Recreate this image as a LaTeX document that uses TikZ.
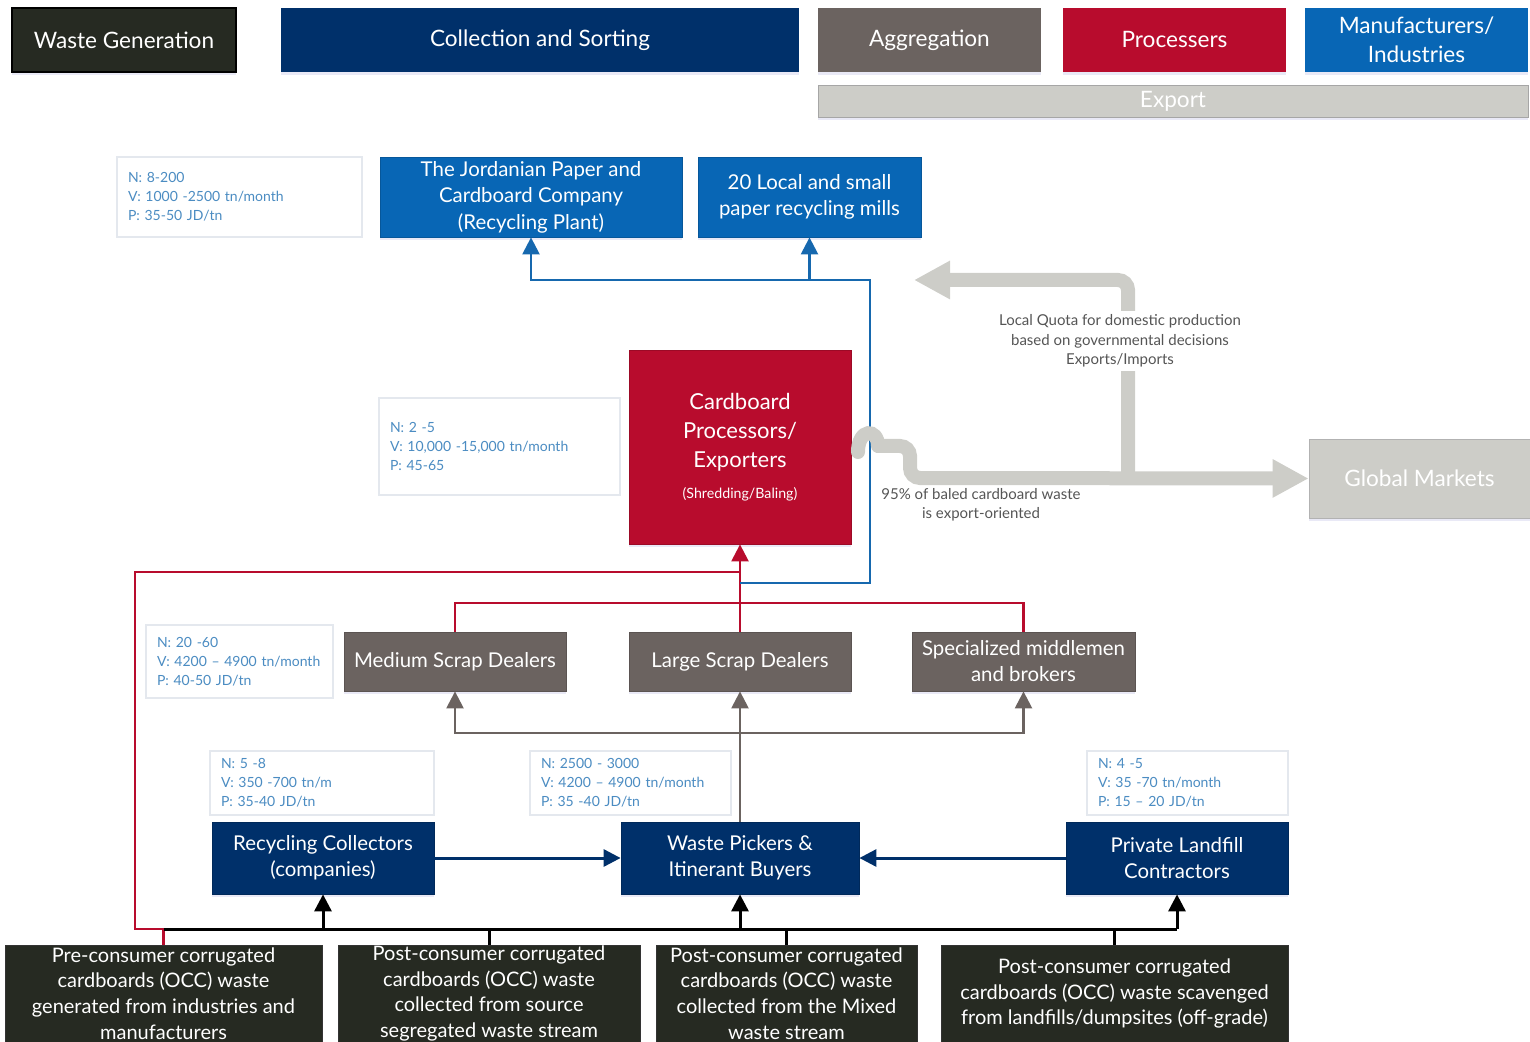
\documentclass[tikz,border=0pt]{standalone}
\usepackage{fontspec}
\setmainfont{Lato}
\usetikzlibrary{arrows.meta,shadows}

\definecolor{wastebg}{HTML}{262A22}
\definecolor{navybg}{HTML}{00306A}
\definecolor{agbg}{HTML}{6B6360}
\definecolor{procbg}{HTML}{B80C2D}
\definecolor{mfgbg}{HTML}{0866B5}
\definecolor{exportbg}{HTML}{CDCDC8}
\definecolor{infotext}{HTML}{4B8CC2}
\definecolor{infoedge}{HTML}{E4E8EE}
\definecolor{labeltext}{HTML}{555555}
\definecolor{flowblue}{HTML}{1668AE}

\tikzset{
  box/.style={rectangle, inner sep=0pt, align=center, text=white,
    drop shadow={shadow xshift=0pt, shadow yshift=-1.5pt, opacity=0.12, fill=blue!40!gray}},
  header/.style={box, minimum height=32pt, font=\fontsize{11.3}{14.5}\selectfont},
  mfgbox/.style={box, fill=mfgbg, draw=mfgbg!85!black, minimum height=40pt,
    font=\fontsize{10.2}{13.3}\selectfont},
  procbox/.style={box, fill=procbg, draw=procbg!85!black, font=\fontsize{11}{14.5}\selectfont},
  aggbox/.style={box, fill=agbg, draw=agbg!85!black, minimum height=29.5pt,
    font=\fontsize{10.2}{13}\selectfont},
  collbox/.style={box, fill=navybg, draw=navybg!85!black, minimum height=36pt,
    font=\fontsize{10.2}{13}\selectfont},
  genbox/.style={box, fill=wastebg, draw=black!80, minimum height=48.5pt,
    font=\fontsize{10}{12.8}\selectfont},
  info/.style={rectangle, draw=infoedge, line width=1pt, fill=white, inner xsep=5.5pt,
    inner ysep=0pt, align=left, text=infotext, font=\fontsize{7}{9.6}\selectfont},
  flowlabel/.style={align=center, text=labeltext, font=\fontsize{7.5}{9.7}\selectfont},
  tip/.style={-{Triangle[width=8.5pt,length=8.5pt]}},
  redflow/.style={draw=procbg, line width=1.2pt},
  blueflow/.style={draw=flowblue, line width=1.2pt},
  grayflow/.style={draw=agbg, line width=1.2pt},
  navyflow/.style={draw=navybg, line width=1.5pt},
  busflow/.style={draw=black, line width=1.5pt},
  exportflow/.style={draw=exportbg, line width=7pt,
    -{Triangle[width=18pt,length=18pt]}},
}

\begin{document}
\begin{tikzpicture}[x=0.5pt,y=-0.5pt]
\useasboundingbox (0,0) rectangle (1530,1042);
\clip (0,0) rectangle (1530,1042);

% ---- stage headers ----
\node[header, fill=wastebg, draw=black, line width=1pt, minimum width=112pt] (hWaste) at (124,40) {Waste Generation};
\node[header, fill=navybg, minimum width=259pt] (hColl) at (540,40) {Collection and Sorting};
\node[header, fill=agbg, minimum width=111.5pt] (hAgg) at (929.5,40) {Aggregation};
\node[header, fill=procbg, minimum width=111.5pt] (hProc) at (1174.5,40) {Processers};
\node[header, fill=mfgbg, minimum width=111.5pt] (hMfg) at (1416.5,40) {Manufacturers/\\Industries};
\node[header, fill=exportbg, draw=gray!70, minimum width=355pt, minimum height=16pt] (hExport) at (1173,101) {Export};

% ---- manufacturers ----
\node[info, text width=111.5pt, minimum height=40pt] (info1) at (239.5,197) {N: 8-200\\V: 1000 -2500 tn/month\\P: 35-50 JD/tn};
\node[mfgbox, minimum width=151pt] (jpc) at (531,197) {The Jordanian Paper and\\Cardboard Company\\(Recycling Plant)};
\node[mfgbox, minimum width=111.5pt] (mills) at (809.5,197) {20 Local and small\\paper recycling mills};

% ---- processors ----
\node[info, text width=109.5pt, minimum height=48.5pt] (info2) at (499.5,446.5) {N: 2 -5\\V: 10,000 -15,000 tn/month\\P: 45-65};
\node[procbox, minimum width=111pt, minimum height=97pt] (cpe) at (740,447)
  {Cardboard\\Processors/\\Exporters\\[1pt]{\fontsize{7.1}{9}\selectfont(Shredding/Baling)}};
\node[box, fill=exportbg, draw=gray!60, minimum width=110.5pt, minimum height=39.5pt,
  font=\fontsize{11.3}{14}\selectfont] (gm) at (1419.5,478.5) {Global Markets};

% ---- aggregation ----
\node[info, text width=82.5pt, minimum height=36.5pt] (info3) at (239.5,661.5) {N: 20 -60\\V: 4200 – 4900 tn/month\\P: 40-50 JD/tn};
\node[aggbox, minimum width=111pt] (med) at (455,661.5) {Medium Scrap Dealers};
\node[aggbox, minimum width=111pt] (large) at (740,661.5) {Large Scrap Dealers};
\node[aggbox, minimum width=111.5pt] (spec) at (1023.5,661.5) {Specialized middlemen\\and brokers};

% ---- collection and sorting ----
\node[info, text width=101pt, minimum height=32pt] (info4) at (322,783) {N: 5 -8\\V: 350 -700 tn/m\\P: 35-40 JD/tn};
\node[info, text width=89.5pt, minimum height=32pt] (info5) at (630.5,783) {N: 2500 - 3000\\V: 4200 – 4900 tn/month\\P: 35 -40 JD/tn};
\node[info, text width=89.5pt, minimum height=32pt] (info6) at (1187.5,783) {N: 4 -5\\V: 35 -70 tn/month\\P: 15 – 20 JD/tn};
\node[collbox, minimum width=111pt] (rc) at (323,858) {Recycling Collectors\\(companies)};
\node[collbox, minimum width=119pt] (wp) at (740,858) {Waste Pickers \&\\Itinerant Buyers};
\node[collbox, minimum width=111pt] (plc) at (1177,858) {Private Landfill\\Contractors};

% ---- waste generation ----
\node[genbox, minimum width=158.5pt] (pre) at (163.5,993.5) {Pre-consumer corrugated\\cardboards (OCC) waste\\generated from industries and\\manufacturers};
\node[genbox, minimum width=151pt] (src) at (489,993.5) {Post-consumer corrugated\\cardboards (OCC) waste\\collected from source\\segregated waste stream};
\node[genbox, minimum width=130.5pt] (mix) at (786.5,993.5) {Post-consumer corrugated\\cardboards (OCC) waste\\collected from the Mixed\\waste stream};
\node[genbox, minimum width=173.5pt] (lf) at (1114.5,993.5) {Post-consumer corrugated\\cardboards (OCC) waste scavenged\\from landfills/dumpsites (off-grade)};

% ---- routing coordinates ----
\coordinate (busy) at (0,929);
\coordinate (aggy) at (0,733);
\coordinate (dealy) at (0,603);
\coordinate (feedy) at (0,572);
\coordinate (bturn) at (870,583);
\coordinate (btop) at (870,280);
\coordinate (redleft) at (135,929);
\coordinate (split) at (1128,478);
\coordinate (quotatip) at (914,280);

% ---- generation bus ----
\draw[redflow] (pre.north) -- (pre.north |- busy) -- (redleft) -- (redleft |- feedy) -- (cpe.south |- feedy);
\draw[busflow] (pre.north |- busy) -- (plc.south |- busy);
\draw[busflow, tip] (rc.south |- busy) -- (rc.south);
\draw[busflow, tip] (wp.south |- busy) -- (wp.south);
\draw[busflow, tip] (plc.south |- busy) -- (plc.south);
\draw[busflow] (src.north) -- (src.north |- busy);
\draw[busflow] (mix.north) -- (mix.north |- busy);
\draw[busflow] (lf.north) -- (lf.north |- busy);

% ---- collection flows ----
\draw[navyflow, tip] (rc.east) -- (wp.west);
\draw[navyflow, tip] (plc.west) -- (wp.east);

% ---- to aggregation ----
\draw[grayflow, tip] (wp.north) -- (large.south);
\draw[grayflow, tip] (large.south |- aggy) -| (med.south);
\draw[grayflow, tip] (large.south |- aggy) -| (spec.south);

% ---- to processors ----
\draw[redflow] (med.north) |- (large.north |- dealy) -| (spec.north);
\draw[redflow, tip] (large.north) -- (cpe.south);

% ---- to local mills ----
\draw[blueflow, tip] (large.north |- bturn) -- (bturn) -- (btop) -| (jpc.south);
\draw[blueflow, tip] (mills.south |- btop) -- (mills.south);

% ---- export flows: hump over the mill line, then out to the markets ----
\draw[draw=exportbg, line width=7pt, line cap=round]
  (858,452) .. controls (858,428) and (878,428) .. (878,446);
\draw[exportflow, rounded corners=5pt] (876,446) -- (910,446) -- (910,478) -- (gm.west);
\draw[exportflow, rounded corners=5pt] (split) -- (btop -| split) -- (quotatip);
\node[flowlabel, fill=white, inner sep=2pt] (quota) at (1120,341)
  {Local Quota for domestic production\\based on governmental decisions\\Exports/Imports};
\node[flowlabel, inner sep=0pt] (share) at (981,505) {95\% of baled cardboard waste\\is export-oriented};
\end{tikzpicture}
\end{document}
